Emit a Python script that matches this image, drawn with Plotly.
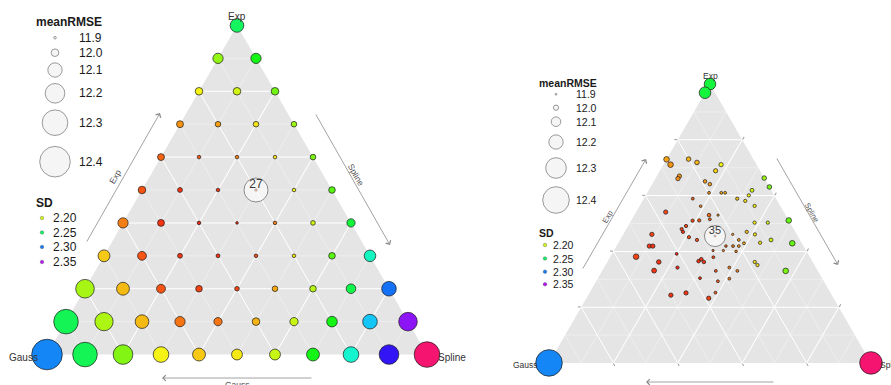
import numpy as np
import plotly.graph_objects as go

FONT = "Liberation Sans, Arial, sans-serif"
W, H = 891, 385

# ---------------- left panel: 0.1 lattice of model weights ----------------
EXP_L = [1.0,
         0.9, 0.9,
         0.8, 0.8, 0.8,
         0.7, 0.7, 0.7, 0.7,
         0.6, 0.6, 0.6, 0.6, 0.6,
         0.5, 0.5, 0.5, 0.5, 0.5, 0.5,
         0.4, 0.4, 0.4, 0.4, 0.4, 0.4, 0.4,
         0.3, 0.3, 0.3, 0.3, 0.3, 0.3, 0.3, 0.3,
         0.2, 0.2, 0.2, 0.2, 0.2, 0.2, 0.2, 0.2, 0.2,
         0.1, 0.1, 0.1, 0.1, 0.1, 0.1, 0.1, 0.1, 0.1, 0.1,
         0.0, 0.0, 0.0, 0.0, 0.0, 0.0, 0.0, 0.0, 0.0, 0.0, 0.0]
GAUSS_L = [0.0,
           0.1, 0.0,
           0.2, 0.1, 0.0,
           0.3, 0.2, 0.1, 0.0,
           0.4, 0.3, 0.2, 0.1, 0.0,
           0.5, 0.4, 0.3, 0.2, 0.1, 0.0,
           0.6, 0.5, 0.4, 0.3, 0.2, 0.1, 0.0,
           0.7, 0.6, 0.5, 0.4, 0.3, 0.2, 0.1, 0.0,
           0.8, 0.7, 0.6, 0.5, 0.4, 0.3, 0.2, 0.1, 0.0,
           0.9, 0.8, 0.7, 0.6, 0.5, 0.4, 0.3, 0.2, 0.1, 0.0,
           1.0, 0.9, 0.8, 0.7, 0.6, 0.5, 0.4, 0.3, 0.2, 0.1, 0.0]
SPLINE_L = [0.0,
            0.0, 0.1,
            0.0, 0.1, 0.2,
            0.0, 0.1, 0.2, 0.3,
            0.0, 0.1, 0.2, 0.3, 0.4,
            0.0, 0.1, 0.2, 0.3, 0.4, 0.5,
            0.0, 0.1, 0.2, 0.3, 0.4, 0.5, 0.6,
            0.0, 0.1, 0.2, 0.3, 0.4, 0.5, 0.6, 0.7,
            0.0, 0.1, 0.2, 0.3, 0.4, 0.5, 0.6, 0.7, 0.8,
            0.0, 0.1, 0.2, 0.3, 0.4, 0.5, 0.6, 0.7, 0.8, 0.9,
            0.0, 0.1, 0.2, 0.3, 0.4, 0.5, 0.6, 0.7, 0.8, 0.9, 1.0]
RMSE_L = [12.09,
          12.04, 12.04,
          12.00, 12.00, 12.00,
          11.986, 11.96, 11.96, 11.96,
          11.986, 11.92, 11.92, 11.92, 11.96,
          12.00, 11.946, 11.92, 11.895, 11.92, 11.98,
          12.04, 11.986, 11.92, 11.90, 11.92, 11.94, 12.01,
          12.064, 12.019, 11.946, 11.926, 11.92, 11.92, 11.98, 12.06,
          12.181, 12.079, 12.019, 11.98, 11.94, 11.96, 11.98, 12.03, 12.106,
          12.283, 12.175, 12.09, 12.04, 12.01, 12.00, 12.01, 12.045, 12.106, 12.181,
          12.40, 12.283, 12.20, 12.125, 12.079, 12.049, 12.049, 12.079, 12.125, 12.20, 12.30]
SD_L = [2.249,
        2.211, 2.235,
        2.192, 2.199, 2.217,
        2.174, 2.176, 2.189, 2.209,
        2.165, 2.163, 2.170, 2.189, 2.215,
        2.162, 2.156, 2.156, 2.163, 2.192, 2.222,
        2.170, 2.156, 2.153, 2.156, 2.170, 2.199, 2.242,
        2.184, 2.162, 2.156, 2.156, 2.160, 2.189, 2.222, 2.267,
        2.207, 2.181, 2.162, 2.159, 2.159, 2.178, 2.204, 2.245, 2.302,
        2.247, 2.206, 2.181, 2.168, 2.168, 2.180, 2.201, 2.235, 2.286, 2.342,
        2.298, 2.247, 2.214, 2.192, 2.184, 2.190, 2.201, 2.235, 2.270, 2.325, 2.387]
BEST_LABEL_L = "27"

# ---------------- right panel: optimised weight combinations ----------------
EXP_R = [1.000, 0.969, 0.000, 0.000,
         0.730, 0.711, 0.731, 0.719, 0.711, 0.689, 0.670, 0.661, 0.651, 0.641,
         0.663, 0.631, 0.619, 0.601, 0.581, 0.589, 0.610, 0.610, 0.610, 0.589,
         0.562, 0.563, 0.541, 0.530, 0.515, 0.530, 0.510, 0.511, 0.511, 0.503,
         0.503, 0.491, 0.480, 0.470, 0.461, 0.451, 0.441, 0.419, 0.419, 0.455,
         0.461, 0.470, 0.461, 0.441, 0.429, 0.431, 0.441, 0.429, 0.419, 0.419,
         0.419, 0.403, 0.403, 0.400, 0.381, 0.391, 0.379, 0.362, 0.365, 0.372,
         0.362, 0.362, 0.351, 0.342, 0.342, 0.331, 0.330, 0.330, 0.330, 0.304,
         0.293, 0.302, 0.252, 0.243, 0.251, 0.232]
GAUSS_R = [0.000, 0.031, 1.000, 0.000,
           0.270, 0.267, 0.201, 0.181, 0.110, 0.138, 0.260, 0.269, 0.190, 0.180,
           0.000, 0.000, 0.060, 0.079, 0.100, 0.121, 0.198, 0.160, 0.148, 0.259,
           0.248, 0.080, 0.367, 0.238, 0.243, 0.210, 0.299, 0.278, 0.000, 0.110,
           0.069, 0.329, 0.348, 0.349, 0.450, 0.340, 0.320, 0.479, 0.468, 0.257,
           0.199, 0.151, 0.130, 0.190, 0.180, 0.129, 0.090, 0.030, 0.241, 0.219,
           0.201, 0.289, 0.257, 0.219, 0.539, 0.408, 0.300, 0.478, 0.353, 0.341,
           0.338, 0.180, 0.177, 0.269, 0.430, 0.508, 0.100, 0.317, 0.250, 0.379,
           0.329, 0.289, 0.357, 0.500, 0.449, 0.388]
SPLINE_R = [0.000, 0.000, 0.000, 1.000,
            0.000, 0.022, 0.068, 0.100, 0.179, 0.173, 0.070, 0.070, 0.159, 0.179,
            0.337, 0.369, 0.321, 0.320, 0.319, 0.290, 0.192, 0.230, 0.242, 0.152,
            0.190, 0.357, 0.092, 0.232, 0.242, 0.260, 0.191, 0.211, 0.489, 0.387,
            0.428, 0.180, 0.172, 0.181, 0.089, 0.209, 0.239, 0.102, 0.113, 0.288,
            0.340, 0.379, 0.409, 0.369, 0.391, 0.440, 0.469, 0.541, 0.340, 0.362,
            0.380, 0.308, 0.340, 0.381, 0.080, 0.201, 0.321, 0.160, 0.282, 0.287,
            0.300, 0.458, 0.472, 0.389, 0.228, 0.161, 0.570, 0.353, 0.420, 0.317,
            0.378, 0.409, 0.391, 0.257, 0.300, 0.380]
RMSE_R = [12.143, 12.143, 12.400, 12.333,
          12.007, 12.007, 11.979, 11.979, 11.971, 11.971, 11.971, 11.971, 11.950, 11.950,
          11.979, 11.979, 11.959, 11.941, 11.941, 11.941, 11.929, 11.929, 11.929, 11.929,
          11.921, 11.941, 11.971, 11.950, 11.929, 11.912, 11.941, 11.941, 12.007, 11.941,
          11.941, 11.941, 11.941, 11.941, 11.971, 11.941, 11.941, 11.971, 11.971, 11.905,
          11.912, 11.941, 11.941, 11.929, 11.929, 11.941, 11.959, 12.007, 11.921, 11.929,
          11.929, 11.912, 11.912, 11.921, 12.007, 11.929, 11.929, 11.979, 11.950, 11.950,
          11.950, 11.941, 11.941, 11.929, 11.941, 11.988, 12.007, 11.929, 11.929, 11.929,
          11.929, 11.929, 11.929, 11.971, 11.971, 11.971]
SD_R = [2.242, 2.242, 2.298, 2.387,
        2.177, 2.174, 2.180, 2.180, 2.192, 2.186, 2.174, 2.173, 2.176, 2.176,
        2.209, 2.215, 2.199, 2.192, 2.189, 2.182, 2.173, 2.176, 2.179, 2.163,
        2.170, 2.192, 2.159, 2.166, 2.163, 2.173, 2.160, 2.163, 2.219, 2.192,
        2.199, 2.159, 2.159, 2.156, 2.159, 2.160, 2.160, 2.156, 2.156, 2.160,
        2.173, 2.182, 2.189, 2.176, 2.179, 2.189, 2.199, 2.219, 2.166, 2.170,
        2.173, 2.163, 2.166, 2.170, 2.159, 2.153, 2.160, 2.156, 2.156, 2.156,
        2.156, 2.189, 2.189, 2.170, 2.153, 2.156, 2.215, 2.163, 2.170, 2.156,
        2.163, 2.170, 2.163, 2.156, 2.156, 2.159]
BEST_LABEL_R = "35"

# legend breaks
RMSE_BREAKS = [11.9, 12.0, 12.1, 12.2, 12.3, 12.4]
SD_BREAKS = [2.20, 2.25, 2.30, 2.35]

# ---------------- styling ----------------
# point diameter (px) at each meanRMSE break, per panel
DIAM_L = [3.0, 8.0, 14.7, 20.0, 26.0, 31.0]
DIAM_R = [2.3, 5.7, 10.0, 14.7, 21.0, 27.0]
SD_MIN, SD_MAX = 2.15, 2.39
HUE_MAX = 340.0


def hsv_rgb(h):
    lo, hi = 20, 245
    h = h % 360
    sector = int(h // 60)
    f = (h - sector * 60) / 60.0
    up = lo + (hi - lo) * f
    down = hi - (hi - lo) * f
    r, g, b = [(hi, up, lo), (down, hi, lo), (lo, hi, up),
               (lo, down, hi), (up, lo, hi), (hi, lo, down)][sector]
    return "rgb(%d,%d,%d)" % (round(r), round(g), round(b))


HUES = [0, 60, 120, 180, 240, 300, 340]
COLORSCALE = [[h / HUE_MAX, hsv_rgb(h)] for h in HUES]


def diam(values, table):
    return np.interp(values, RMSE_BREAKS, table) - 0.4


def ternary_axis():
    return dict(showticklabels=False, ticks="outside", ticklen=3, tickwidth=1,
                tickcolor="#9a9a9a", showline=False, showgrid=True,
                gridcolor="white", gridwidth=1.1, tickmode="linear",
                tick0=0, dtick=0.2, title=dict(text=""), layer="below traces")


def minor_grid(subplot):
    a, b, c = [], [], []
    for v in [0.1, 0.3, 0.5, 0.7, 0.9]:
        r = 1 - v
        a += [v, v, None, r, 0, None, r, 0, None]
        b += [r, 0, None, v, v, None, 0, r, None]
        c += [0, r, None, 0, r, None, v, v, None]
    return go.Scatterternary(a=a, b=b, c=c, mode="lines", subplot=subplot,
                             line=dict(color="rgba(255,255,255,0.75)", width=0.5),
                             hoverinfo="skip", showlegend=False, cliponaxis=False)


def panel(subplot, exp, gauss, spline, rmse, sd, table, label, circ, fsize, lift):
    exp, gauss, spline = np.array(exp), np.array(gauss), np.array(spline)
    rmse, sd = np.array(rmse), np.array(sd)
    traces = [minor_grid(subplot)]
    traces.append(go.Scatterternary(
        a=exp, b=gauss, c=spline, mode="markers", subplot=subplot,
        cliponaxis=False, showlegend=False,
        marker=dict(size=diam(rmse, table), color=sd, colorscale=COLORSCALE,
                    cmin=SD_MIN, cmax=SD_MAX, opacity=1,
                    line=dict(color="#1a1a1a", width=0.7))))
    k = int(np.argmin(rmse))
    traces.append(go.Scatterternary(
        a=[exp[k]], b=[gauss[k]], c=[spline[k]], mode="markers", subplot=subplot,
        cliponaxis=False, showlegend=False,
        marker=dict(size=circ, color="rgba(255,255,255,0.6)",
                    line=dict(color="#8c8c8c", width=1))))
    traces.append(go.Scatterternary(
        a=[exp[k] + lift], b=[gauss[k] - lift / 2], c=[spline[k] - lift / 2],
        mode="text", text=[label], textposition="middle center", subplot=subplot,
        cliponaxis=False, showlegend=False,
        textfont=dict(family=FONT, size=fsize, color="#3a3a3a")))
    return traces


fig = go.Figure()
for t in panel("ternary", EXP_L, GAUSS_L, SPLINE_L, RMSE_L, SD_L, DIAM_L,
               BEST_LABEL_L, 24, 12, 0.014):
    fig.add_trace(t)
for t in panel("ternary2", EXP_R, GAUSS_R, SPLINE_R, RMSE_R, SD_R, DIAM_R,
               BEST_LABEL_R, 21, 11, 0.016):
    fig.add_trace(t)

# legends on a hidden pixel-space overlay
annotations = []


def legend(x_title, y_title, x_key, x_lab, ys, table, sd_title_y, sd_x, sd_lab_x,
           sd_ys, fsize):
    fig.add_trace(go.Scatter(
        x=[x_key] * len(RMSE_BREAKS), y=ys, mode="markers", showlegend=False,
        hoverinfo="skip",
        marker=dict(size=diam(np.array(RMSE_BREAKS), table), color="#f2f2f2",
                    line=dict(color="#4d4d4d", width=0.8))))
    fig.add_trace(go.Scatter(
        x=[sd_x] * len(SD_BREAKS), y=sd_ys, mode="markers", showlegend=False,
        hoverinfo="skip",
        marker=dict(size=3.6, color=SD_BREAKS, colorscale=COLORSCALE,
                    cmin=SD_MIN, cmax=SD_MAX, line=dict(color="#333", width=0.3))))
    annotations.append(dict(x=x_title, y=y_title, text="<b>meanRMSE</b>",
                            xanchor="left", font=dict(size=fsize)))
    annotations.append(dict(x=x_title, y=sd_title_y, text="<b>SD</b>",
                            xanchor="left", font=dict(size=fsize)))
    for v, y in zip(RMSE_BREAKS, ys):
        annotations.append(dict(x=x_lab, y=y, text="%.1f" % v, xanchor="left",
                                font=dict(size=fsize)))
    for v, y in zip(SD_BREAKS, sd_ys):
        annotations.append(dict(x=sd_lab_x, y=y, text="%.2f" % v, xanchor="left",
                                font=dict(size=fsize)))


legend(34, 22, 55, 77, [37.7, 52.7, 70, 93.3, 122.7, 161.7], DIAM_L,
       203, 42, 51, [218, 232.5, 247, 262], 12)
legend(537, 83, 556, 574, [94.3, 107.7, 121.7, 142, 168, 200], DIAM_R,
       233, 545, 551, [245, 258.5, 271.7, 284.3], 10.5)


def arrow(tail, head):
    annotations.append(dict(x=head[0], y=head[1], ax=tail[0], ay=tail[1],
                            axref="x", ayref="y", text="", showarrow=True,
                            arrowhead=4, arrowsize=1.4, arrowwidth=0.8,
                            arrowcolor="#8a8a8a", standoff=0, startstandoff=0))


def label(x, y, text, size, angle=0, xanchor="center", color="#333333"):
    annotations.append(dict(x=x, y=y, text=text, textangle=angle, xanchor=xanchor,
                            font=dict(size=size, color=color)))


# left panel axis arrows and vertex titles
arrow((86, 243), (160, 113))
arrow((315, 113), (390, 245))
arrow((313, 378), (162, 378))
label(115, 177, "Exp", 8.5, -60, color="#555555")
label(356, 175, "Spline", 8.5, 60, color="#555555")
label(237, 385, "Gauss", 8.5, color="#555555")
label(237, 16, "Exp", 10)
label(40, 357, "Gauss", 10, xanchor="right")
label(436, 357, "Spline", 10, xanchor="left")

# right panel axis arrows and vertex titles
arrow((582, 270), (646, 159))
arrow((776, 157), (838, 265))
arrow((775, 382), (646, 382))
label(607, 217, "Exp", 7.5, -60, color="#555555")
label(812, 212, "Spline", 7.5, 60, color="#555555")
label(710, 391, "Gauss", 7.5, color="#555555")
label(710, 76, "Exp", 8.5)
label(540, 365, "Gauss", 8.5, xanchor="right")
label(878, 365, "Spline", 8.5, xanchor="left")

for a in annotations:
    a.setdefault("showarrow", False)
    a.setdefault("xref", "x")
    a.setdefault("yref", "y")
    a.setdefault("yanchor", "middle")
    a.setdefault("font", {})
    a["font"].setdefault("family", FONT)
    a["font"].setdefault("color", "#1a1a1a")

fig.update_layout(
    width=W, height=H, margin=dict(l=0, r=0, t=0, b=0),
    paper_bgcolor="white", plot_bgcolor="rgba(0,0,0,0)",
    font=dict(family=FONT),
    xaxis=dict(range=[0, W], domain=[0, 1], visible=False, fixedrange=True),
    yaxis=dict(range=[H, 0], domain=[0, 1], visible=False, fixedrange=True),
    ternary=dict(domain=dict(x=[47 / W, 427 / W], y=[30 / H, 360 / H]),
                 bgcolor="#E5E5E5", sum=1,
                 aaxis=ternary_axis(), baxis=ternary_axis(), caxis=ternary_axis()),
    ternary2=dict(domain=dict(x=[549 / W, 871 / W], y=[22 / H, 301 / H]),
                  bgcolor="#E5E5E5", sum=1,
                  aaxis=ternary_axis(), baxis=ternary_axis(), caxis=ternary_axis()),
    annotations=annotations,
    showlegend=False,
)

fig.write_html("out.html")
